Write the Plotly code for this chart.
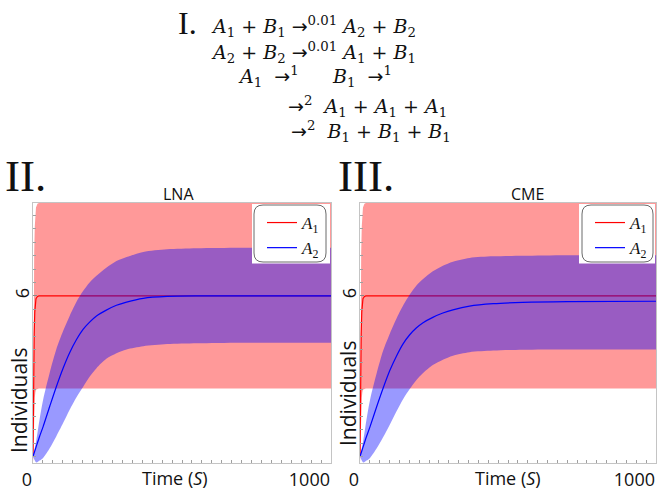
import plotly.graph_objects as go

W, H = 659, 491

# ---------------- data ----------------
# A1: same in both panels
t_a1 = [0, 1, 2, 3, 4, 6, 8, 10, 15, 20, 1000]
a1_mean = [0, 1.6, 2.9, 3.9, 4.6, 5.4, 5.75, 5.9, 5.98, 6.0, 6.0]
a1_upper = [0, 3.4, 5.3, 6.7, 7.6, 8.6, 9.1, 9.3, 9.44, 9.47, 9.47]
a1_lower = [0, -0.2, 0.5, 1.1, 1.6, 2.2, 2.4, 2.5, 2.52, 2.54, 2.54]

# A2
t_a2 = [0, 11, 22, 34, 56, 78, 101, 123, 146, 168, 190, 213, 246, 280, 314, 370, 450, 550, 700, 1000]
lna_mean = [0, 0.38, 0.75, 1.12, 1.87, 2.6, 3.3, 3.88, 4.37, 4.75, 5.02, 5.25, 5.47, 5.65, 5.77, 5.91, 5.98, 6.0, 6.0, 6.0]
lna_upper = [0, 0.6, 1.38, 2.12, 3.13, 4.0, 4.69, 5.25, 5.78, 6.18, 6.5, 6.75, 7.05, 7.3, 7.45, 7.64, 7.74, 7.78, 7.8, 7.8]
lna_lower = [0, -0.22, -0.15, -0.05, 0.31, 0.75, 1.25, 1.75, 2.22, 2.6, 2.98, 3.3, 3.65, 3.86, 4.0, 4.12, 4.2, 4.23, 4.25, 4.25]

cme_mean = [0, 0.38, 0.75, 1.12, 1.85, 2.55, 3.22, 3.75, 4.22, 4.55, 4.8, 5.0, 5.2, 5.36, 5.48, 5.62, 5.71, 5.76, 5.79, 5.8]
cme_upper = [0, 0.6, 1.38, 2.12, 3.1, 3.95, 4.6, 5.15, 5.65, 6.05, 6.38, 6.63, 6.92, 7.13, 7.28, 7.42, 7.48, 7.5, 7.52, 7.52]
cme_lower = [0, -0.22, -0.15, -0.05, 0.3, 0.72, 1.2, 1.68, 2.15, 2.52, 2.85, 3.12, 3.42, 3.62, 3.77, 3.9, 3.96, 3.99, 4.0, 4.0]

x_tickvals = [0, 1000]
x_ticktext = ["0", "1000"]
y_tickvals = [6]
y_ticktext = ["6"]

panel_titles = ["LNA", "CME"]
panel_labels = ["II.", "III."]
legend_names = ["<i>A</i><sub>1</sub>", "<i>A</i><sub>2</sub>"]

ARROW = '<span style="font-family:DejaVu Sans">→</span>'
reaction_lines = [
    f"<i>A</i><sub>1</sub> + <i>B</i><sub>1</sub> {ARROW}<sup>0.01</sup> <i>A</i><sub>2</sub> + <i>B</i><sub>2</sub>",
    f"<i>A</i><sub>2</sub> + <i>B</i><sub>2</sub> {ARROW}<sup>0.01</sup> <i>A</i><sub>1</sub> + <i>B</i><sub>1</sub>",
    f"<i>A</i><sub>1</sub>  {ARROW}<sup>1</sup>",
    f"<i>B</i><sub>1</sub>  {ARROW}<sup>1</sup>",
    f"{ARROW}<sup>2</sup>  <i>A</i><sub>1</sub> + <i>A</i><sub>1</sub> + <i>A</i><sub>1</sub>",
    f"{ARROW}<sup>2</sup>  <i>B</i><sub>1</sub> + <i>B</i><sub>1</sub> + <i>B</i><sub>1</sub>",
]

# ---------------- styling / layout ----------------
RED = "#ff0000"
BLUE = "#0000ff"
RED_FILL = "rgba(255,0,0,0.4)"
BLUE_FILL = "rgba(0,0,255,0.4)"
SANS = "Open Sans"
SERIF = "Liberation Serif"
MATH = "DejaVu Serif"


def X(px):
    return px / W


def Y(py):
    return 1 - py / H


fig = go.Figure()

panels = [
    ("x", "y", "legend", lna_mean, lna_upper, lna_lower),
    ("x2", "y2", "legend2", cme_mean, cme_upper, cme_lower),
]

for xa, ya, lg, m2, u2, l2 in panels:
    fig.add_trace(go.Scatter(x=t_a1, y=a1_upper, xaxis=xa, yaxis=ya, mode="lines",
                             line=dict(width=0), showlegend=False, hoverinfo="skip"))
    fig.add_trace(go.Scatter(x=t_a1, y=a1_lower, xaxis=xa, yaxis=ya, mode="lines",
                             line=dict(width=0), fill="tonexty", fillcolor=RED_FILL,
                             showlegend=False, hoverinfo="skip"))
    fig.add_trace(go.Scatter(x=t_a1, y=a1_mean, xaxis=xa, yaxis=ya, mode="lines",
                             line=dict(color=RED, width=1.2), name=legend_names[0], legend=lg))
    fig.add_trace(go.Scatter(x=t_a2, y=u2, xaxis=xa, yaxis=ya, mode="lines",
                             line=dict(width=0, shape="spline", smoothing=0.8),
                             showlegend=False, hoverinfo="skip"))
    fig.add_trace(go.Scatter(x=t_a2, y=l2, xaxis=xa, yaxis=ya, mode="lines",
                             line=dict(width=0, shape="spline", smoothing=0.8), fill="tonexty",
                             fillcolor=BLUE_FILL, showlegend=False, hoverinfo="skip"))
    fig.add_trace(go.Scatter(x=t_a2, y=m2, xaxis=xa, yaxis=ya, mode="lines",
                             line=dict(color=BLUE, width=1.2, shape="spline", smoothing=0.8),
                             name=legend_names[1], legend=lg))

ydom = [Y(463), Y(203)]
xdoms = [[X(33), X(331)], [X(360), X(656)]]

axis_common = dict(showgrid=False, zeroline=False, showline=True, mirror=True,
                   linecolor="#c4c4c4", linewidth=1, automargin=False)

xaxis_cfg = dict(range=[0, 1000], tickmode="array", tickvals=x_tickvals, ticktext=x_ticktext,
                 ticks="inside", ticklen=5, tickcolor="#8a8a8a",
                 minor=dict(dtick=100 / 3, tick0=0, ticks="inside", ticklen=3, tickcolor="#a0a0a0"),
                 ticklabelposition="outside left",
                 tickfont=dict(family=SANS, size=18, color="#111"), **axis_common)
yaxis_cfg = dict(range=[-0.24, 9.47], tickmode="array", tickvals=y_tickvals, ticktext=y_ticktext,
                 ticks="inside", ticklen=4, tickcolor="#8a8a8a", tickangle=-90,
                 minor=dict(dtick=0.5, tick0=0, ticks="inside", ticklen=3, tickcolor="#a0a0a0"),
                 ticklabelstandoff=-4,
                 tickfont=dict(family=SANS, size=18, color="#111"), **axis_common)

legend_common = dict(xanchor="right", yanchor="top", bgcolor="rgba(0,0,0,0)", borderwidth=0,
                     traceorder="normal", tracegroupgap=0,
                     font=dict(family=SERIF, size=17, color="#111"))

fig.update_layout(
    width=W, height=H, autosize=False,
    margin=dict(l=0, r=0, t=0, b=0, pad=0),
    paper_bgcolor="white", plot_bgcolor="white",
    xaxis=dict(domain=xdoms[0], anchor="y", **xaxis_cfg),
    yaxis=dict(domain=ydom, anchor="x", **yaxis_cfg),
    xaxis2=dict(domain=xdoms[1], anchor="y2", **xaxis_cfg),
    yaxis2=dict(domain=ydom, anchor="x2", **yaxis_cfg),
    legend=dict(x=X(325), y=Y(205), **legend_common),
    legend2=dict(x=X(653), y=Y(205), **legend_common),
    showlegend=True,
)


def rounded_path(x0, y0, x1, y1, r):
    return (f"M {X(x0 + r)},{Y(y0)} L {X(x1 - r)},{Y(y0)} Q {X(x1)},{Y(y0)} {X(x1)},{Y(y0 + r)} "
            f"L {X(x1)},{Y(y1 - r)} Q {X(x1)},{Y(y1)} {X(x1 - r)},{Y(y1)} "
            f"L {X(x0 + r)},{Y(y1)} Q {X(x0)},{Y(y1)} {X(x0)},{Y(y1 - r)} "
            f"L {X(x0)},{Y(y0 + r)} Q {X(x0)},{Y(y0)} {X(x0 + r)},{Y(y0)} Z")


shapes = []
for (wx0, wx1, bx0, bx1) in [(252, 330, 254, 326), (579, 655, 582, 653)]:
    shapes.append(dict(type="rect", xref="paper", yref="paper", x0=X(wx0), x1=X(wx1),
                       y0=Y(263.5), y1=Y(204), fillcolor="white", line=dict(width=0), layer="above"))
    shapes.append(dict(type="path", xref="paper", yref="paper", path=rounded_path(bx0, 205, bx1, 262, 9),
                       line=dict(color="#6a6a6a", width=1), fillcolor="rgba(0,0,0,0)", layer="above"))
fig.update_layout(shapes=shapes)

ann = []
for cx, txt in [(179, panel_titles[0]), (527, panel_titles[1])]:
    ann.append(dict(x=X(cx), y=Y(194), xref="paper", yref="paper", text=txt, showarrow=False,
                    xanchor="center", yanchor="middle", font=dict(family=SANS, size=16, color="#111")))
for lx, txt in [(3, panel_labels[0]), (336, panel_labels[1])]:
    ann.append(dict(x=X(lx), y=Y(176), xref="paper", yref="paper", text=txt, showarrow=False,
                    xanchor="left", yanchor="middle", font=dict(family=SERIF, size=45, color="#111")))
ann.append(dict(x=X(176), y=Y(23), xref="paper", yref="paper", text="I.", showarrow=False,
                xanchor="left", yanchor="middle", font=dict(family=SERIF, size=32, color="#111")))
for cx in [175, 508]:
    ann.append(dict(x=X(cx), y=Y(478), xref="paper", yref="paper", text="Time (<i>S</i>)", showarrow=False,
                    xanchor="center", yanchor="middle", font=dict(family=SANS, size=18, color="#111")))
for cx, cy in [(19, 401), (348, 394)]:
    ann.append(dict(x=X(cx), y=Y(cy), xref="paper", yref="paper", text="Individuals", showarrow=False,
                    textangle=-90, xanchor="center", yanchor="middle",
                    font=dict(family=SANS, size=21, color="#111")))
reaction_pos = [(209, 27), (209, 52), (236, 77), (330, 77), (286, 106), (289, 131)]
for (lx, cy), txt in zip(reaction_pos, reaction_lines):
    ann.append(dict(x=X(lx), y=Y(cy), xref="paper", yref="paper", text=txt, showarrow=False,
                    xanchor="left", yanchor="middle", font=dict(family=MATH, size=19, color="#111")))
fig.update_layout(annotations=ann)

fig.write_html("out.html", config={"displayModeBar": False},
               post_script="document.body.style.margin='0px';")
